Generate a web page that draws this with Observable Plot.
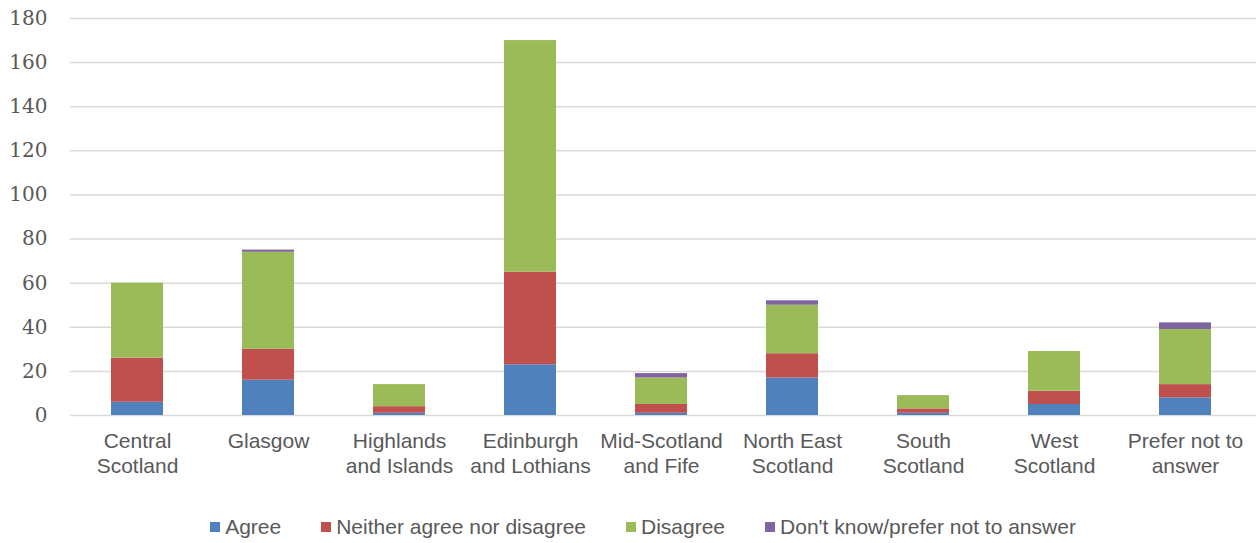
<!DOCTYPE html>
<html>
<head>
<meta charset="utf-8">
<script src="https://cdn.jsdelivr.net/npm/d3@7"></script>
<script src="https://cdn.jsdelivr.net/npm/@observablehq/plot@0.6"></script>
<style>
  body { margin: 0; background: #fff; }
  #chart svg { display: block; }
  #legend {
    display: flex; justify-content: center; gap: 40px;
    margin-top: 20px; padding-left: 30px;
    font: 21px "Liberation Sans", Arial, sans-serif; color: #595959;
    line-height: 24px;
  }
  #legend .item { display: flex; align-items: center; gap: 5px; }
  #legend .sw { width: 10px; height: 10px; display: inline-block; }
</style>
</head>
<body>
<div id="chart"></div>
<div id="legend"></div>
<script>
// Survey responses by region (counts)
const regions = [
  "Central Scotland", "Glasgow", "Highlands and Islands", "Edinburgh and Lothians",
  "Mid-Scotland and Fife", "North East Scotland", "South Scotland", "West Scotland",
  "Prefer not to answer"
];
const regionLabels = [
  "Central\nScotland", "Glasgow", "Highlands\nand Islands", "Edinburgh\nand Lothians",
  "Mid-Scotland\nand Fife", "North East\nScotland", "South\nScotland", "West\nScotland",
  "Prefer not to\nanswer"
];
const responses = ["Agree", "Neither agree nor disagree", "Disagree", "Don't know/prefer not to answer"];
const responseColors = ["#4F81BD", "#C0504D", "#9BBB59", "#8064A2"];

const agree    = [6, 16, 1, 23, 1, 17, 1, 5, 8];
const neither  = [20, 14, 3, 42, 4, 11, 2, 6, 6];
const disagree = [34, 44, 10, 105, 12, 22, 6, 18, 25];
const dontKnow = [0, 1, 0, 0, 2, 2, 0, 0, 3];

const yTicks = [0, 20, 40, 60, 80, 100, 120, 140, 160, 180];

const seriesValues = [agree, neither, disagree, dontKnow];
const rows = [];
responses.forEach((r, s) => {
  regions.forEach((g, i) => rows.push({ region: g, response: r, count: seriesValues[s][i] }));
});

const labelOf = new Map(regions.map((g, i) => [g, regionLabels[i]]));

const chart = Plot.plot({
  width: 1256,
  height: 495,
  marginTop: 18,
  marginBottom: 80,
  marginLeft: 70,
  marginRight: 0,
  x: { domain: regions, range: [70, 1253], paddingInner: 0.6, paddingOuter: 0.3, label: null },
  y: { domain: [0, 180], label: null },
  color: { domain: responses, range: responseColors },
  marks: [
    Plot.ruleY(yTicks, { stroke: "#d9d9d9", strokeWidth: 1.5 }),
    Plot.barY(rows, { x: "region", y: "count", fill: "response" }),
    Plot.axisY(yTicks, {
      tickSize: 0, tickPadding: 23, fontSize: 20,
      fontFamily: "DejaVu Serif", fill: "#595959", label: null
    }),
    Plot.axisX({
      tickSize: 0, tickPadding: 15, fontSize: 21, lineHeight: 1.19,
      fontFamily: "Liberation Sans", fill: "#595959",
      tickFormat: (d) => labelOf.get(d), label: null
    })
  ]
});
document.getElementById("chart").appendChild(chart);

const legend = document.getElementById("legend");
responses.forEach((r, i) => {
  const item = document.createElement("span");
  item.className = "item";
  const sw = document.createElement("span");
  sw.className = "sw";
  sw.style.background = responseColors[i];
  const t = document.createElement("span");
  t.textContent = r;
  item.append(sw, t);
  legend.appendChild(item);
});
</script>
</body>
</html>
